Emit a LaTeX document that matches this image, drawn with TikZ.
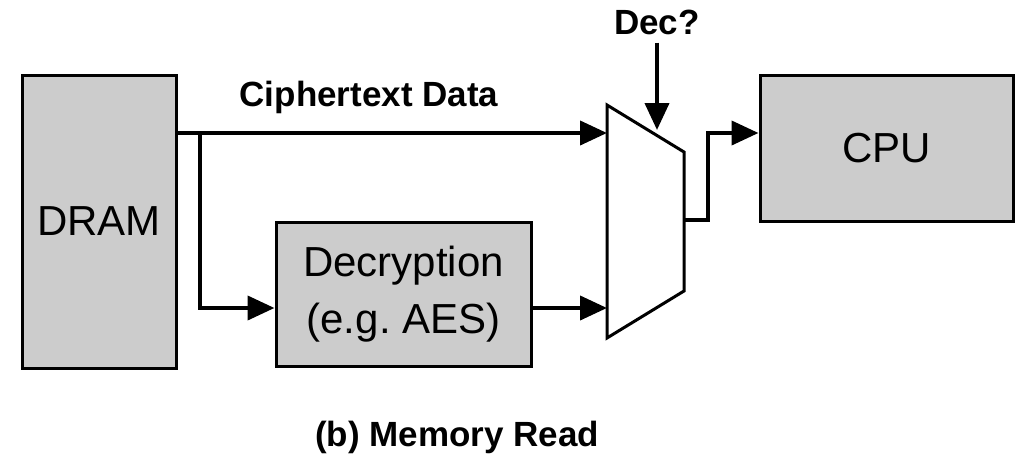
\documentclass[tikz,border=0pt]{standalone}
\usepackage{fontspec}
\setmainfont{Liberation Sans}
\usetikzlibrary{arrows.meta}
\definecolor{boxgray}{HTML}{CCCCCC}
\begin{document}
\frenchspacing
\begin{tikzpicture}[x=1pt,y=-1pt,
  blk/.style={draw=black,fill=boxgray,line width=3pt,inner sep=0pt,font=\fontsize{42}{48}\selectfont},
  wire/.style={line width=4pt},
  arr/.style={wire,-{Triangle[length=27pt,width=24pt]}},
  lbl/.style={font=\bfseries\fontsize{35}{40}\selectfont}]
\useasboundingbox (0,0) rectangle (1026,463);
% blocks
\node[blk,minimum width=154pt,minimum height=293pt] (dram) at (99,221.5) {DRAM};
\node[blk,minimum width=253pt,minimum height=146pt] (cpu) at (886.5,148) {CPU};
\node[blk,minimum width=255pt,minimum height=144pt,align=center,font=\fontsize{42}{57}\selectfont] (dec) at (403.5,294) {Decryption\\(e.g. AES)};
% mux
\draw[line width=3pt,line join=miter] (607,105) -- (684,152) -- (684,291) -- (607,338) -- cycle;
\coordinate (muxin1) at (607,133);
\coordinate (muxin2) at (607,308);
\coordinate (muxout) at (684,220);
\coordinate (muxsel) at (657,130);
\coordinate (split) at (200,133);
\coordinate (bend) at (200,308);
% labels
\node[lbl] (ctd) at (369,97) {Ciphertext Data};
\node[lbl,inner sep=0pt] (decq) at (657,22) {Dec?};
\node[lbl] (cap) at (457,437) {(b) Memory Read};
% connectors
\draw[arr] (dram.east |- muxin1) -- (muxin1);
\draw[arr] (split) -- (bend) -- (dec.west |- bend);
\draw[arr] (dec.east |- muxin2) -- (muxin2);
\draw[arr] (decq.south) ++(0,8) -- (muxsel);
\draw[arr] (muxout) -- (708,220) -- (708,133) -- (cpu.west |- 0,133);
\end{tikzpicture}
\end{document}
